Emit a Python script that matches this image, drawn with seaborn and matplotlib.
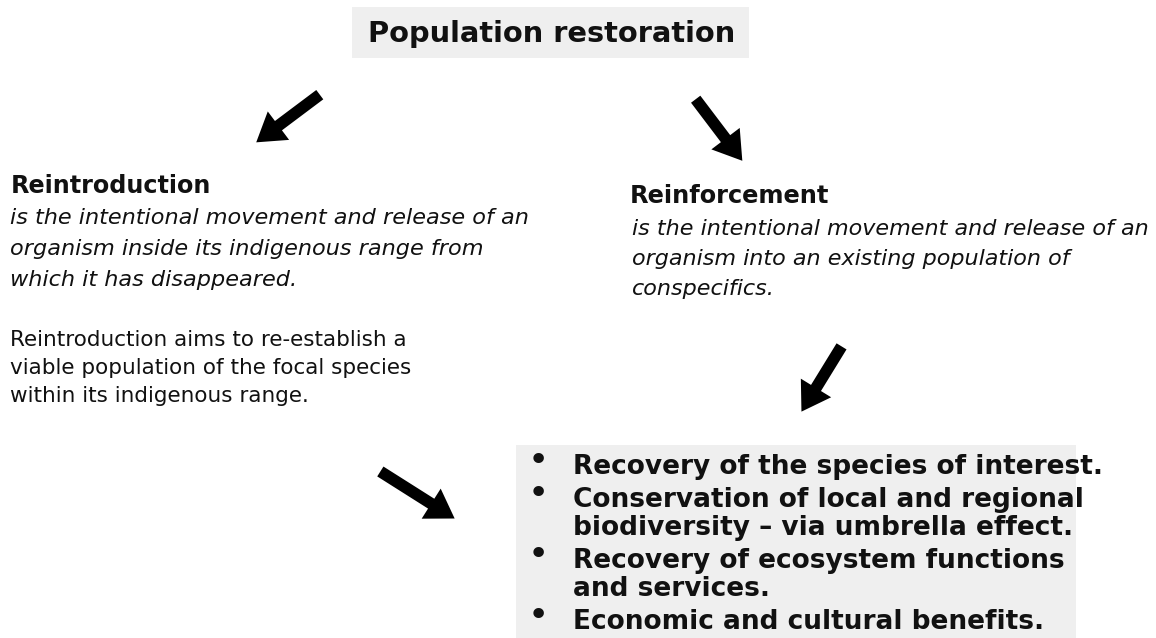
import matplotlib
matplotlib.use("Agg")
import matplotlib.pyplot as plt
import seaborn as sns
from matplotlib.patches import Rectangle, FancyArrowPatch

# texts of the diagram
title = "Population restoration"
left_head = "Reintroduction"
left_def = ["is the intentional movement and release of an",
            "organism inside its indigenous range from",
            "which it has disappeared."]
left_aim = ["Reintroduction aims to re-establish a",
            "viable population of the focal species",
            "within its indigenous range."]
right_head = "Reinforcement"
right_def = ["is the intentional movement and release of an",
             "organism into an existing population of",
             "conspecifics."]
benefits = [["Recovery of the species of interest."],
            ["Conservation of local and regional",
             "biodiversity \u2013 via umbrella effect."],
            ["Recovery of ecosystem functions",
             "and services."],
            ["Economic and cultural benefits."]]

# arrows (tail -> head), pixel coords
arrows = [((322, 93), (254, 144)),
          ((694, 97), (744, 163)),
          ((843, 344), (800, 414)),
          ((378, 470), (457, 520))]

sns.set_style("white")
plt.rcParams['font.family'] = ['DejaVu Sans']

fig = plt.figure(figsize=(11.56, 6.38), dpi=100)
ax = fig.add_axes([0, 0, 1, 1])
ax.set_xlim(0, 1156)
ax.set_ylim(638, 0)
ax.axis("off")

grey = "#efefef"
ink = "#111111"

# title box
ax.add_patch(Rectangle((352, 7), 397, 51, color=grey, lw=0))
ax.text(552, 34, title, ha="center", va="center", fontsize=20.8,
        fontweight="bold", color=ink)

# left block
ax.text(11, 186, left_head, ha="left", va="center", fontsize=17.2,
        fontweight="bold", color=ink)
for i, s in enumerate(left_def):
    ax.text(10, 218 + i * 31, s, ha="left", va="center", fontsize=16.1,
            style="italic", color=ink)
for i, s in enumerate(left_aim):
    ax.text(10, 340 + i * 28, s, ha="left", va="center", fontsize=15.5,
            color=ink)

# right block
ax.text(630, 196, right_head, ha="left", va="center", fontsize=17.3,
        fontweight="bold", color=ink)
for i, s in enumerate(right_def):
    ax.text(632, 229 + i * 30, s, ha="left", va="center", fontsize=16,
            style="italic", color=ink)

# benefits box
ax.add_patch(Rectangle((516, 445), 560, 200, color=grey, lw=0))
y = 467
for item in benefits:
    ax.text(538, y - 6, "\u2022", ha="center", va="center", fontsize=26,
            color=ink)
    for j, s in enumerate(item):
        ax.text(573, y, s, ha="left", va="center", fontsize=19,
                fontweight="bold", color=ink)
        y += 28
    y += 5

for (x0, y0), (x1, y1) in arrows:
    ax.add_patch(FancyArrowPatch((x0, y0), (x1, y1),
                 arrowstyle="simple,head_width=3.2,head_length=2.5,tail_width=1.05",
                 mutation_scale=8, color="black", lw=0))

fig.savefig("out.png", dpi=100)
